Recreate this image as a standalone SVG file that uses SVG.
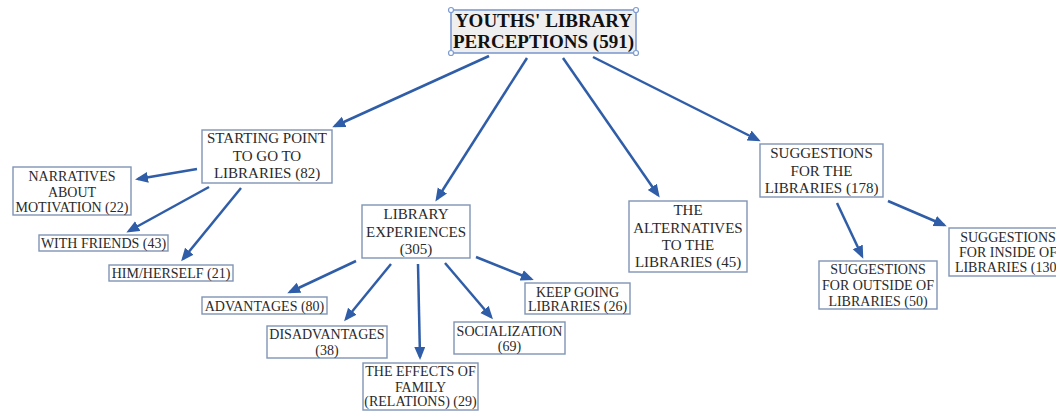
<svg xmlns="http://www.w3.org/2000/svg" width="1056" height="412" viewBox="0 0 1056 412">
<style>
.box{fill:#ffffff;stroke:#8094b6;stroke-width:1.4}
.root{fill:#efefef;stroke:#7d9bd0;stroke-width:1.6}
.h{fill:#ffffff;stroke:#7d9bd0;stroke-width:1.2}
text{font-family:"Liberation Serif","Times New Roman",serif;fill:#2a2a2a;text-anchor:middle}
.t1{font-size:15px}
.t2{font-size:14px}
.tr{font-size:19px;font-weight:bold;fill:#111}
.c{stroke:#2f5da8;stroke-width:2.5;fill:none;marker-end:url(#ah)}
</style>
<defs>
<marker id="ah" markerUnits="userSpaceOnUse" markerWidth="14" markerHeight="12" refX="10" refY="5.5" orient="auto">
<path d="M0,0 L13,5.5 L0,11 z" fill="#2f5da8"/>
</marker>
</defs>
<rect width="1056" height="412" fill="#ffffff"/>
<g id="connectors">
<line class="c" x1="489" y1="56" x2="335" y2="126"/>
<line class="c" x1="527" y1="58" x2="437" y2="199"/>
<line class="c" x1="563" y1="58" x2="658" y2="195"/>
<line class="c" x1="593" y1="57" x2="758" y2="140"/>
<line class="c" x1="197" y1="169" x2="138" y2="179"/>
<line class="c" x1="209" y1="187" x2="129" y2="231"/>
<line class="c" x1="241" y1="188" x2="183" y2="259"/>
<line class="c" x1="356" y1="261" x2="290" y2="292"/>
<line class="c" x1="391" y1="264" x2="346" y2="319"/>
<line class="c" x1="418" y1="264" x2="420" y2="357"/>
<line class="c" x1="445" y1="263" x2="491" y2="317"/>
<line class="c" x1="476" y1="257" x2="531" y2="279"/>
<line class="c" x1="837" y1="203" x2="862" y2="256"/>
<line class="c" x1="888" y1="201" x2="944" y2="225"/>
</g>
<g id="root">
<rect class="root" x="451" y="10" width="185" height="43"/>
<circle class="h" cx="451" cy="10" r="2.5"/>
<circle class="h" cx="636" cy="10" r="2.5"/>
<circle class="h" cx="451" cy="53" r="2.5"/>
<circle class="h" cx="636" cy="53" r="2.5"/>
<text class="tr" x="543.5" y="27">YOUTHS' LIBRARY</text>
<text class="tr" x="543.5" y="48">PERCEPTIONS (591)</text>
</g>
<g id="starting">
<rect class="box" x="202" y="130" width="130" height="53"/>
<text class="t1" x="267" y="143">STARTING POINT</text>
<text class="t1" x="267" y="160.5">TO GO TO</text>
<text class="t1" x="267" y="178">LIBRARIES (82)</text>
</g>
<g id="narratives">
<rect class="box" x="13" y="167" width="118" height="48"/>
<text class="t2" x="72" y="181">NARRATIVES</text>
<text class="t2" x="72" y="196.5">ABOUT</text>
<text class="t2" x="72" y="212">MOTIVATION (22)</text>
</g>
<g id="friends">
<rect class="box" x="39" y="235" width="129" height="16"/>
<text class="t2" x="103.5" y="248">WITH FRIENDS (43)</text>
</g>
<g id="himherself">
<rect class="box" x="109" y="265" width="124" height="16"/>
<text class="t2" x="171" y="278">HIM/HERSELF (21)</text>
</g>
<g id="libexp">
<rect class="box" x="362" y="205" width="108" height="53"/>
<text class="t1" x="416" y="219">LIBRARY</text>
<text class="t1" x="416" y="236.5">EXPERIENCES</text>
<text class="t1" x="416" y="254">(305)</text>
</g>
<g id="advantages">
<rect class="box" x="202" y="297" width="125" height="17"/>
<text class="t2" x="264.5" y="311">ADVANTAGES (80)</text>
</g>
<g id="disadvantages">
<rect class="box" x="267" y="326" width="120" height="32"/>
<text class="t2" x="327" y="339">DISADVANTAGES</text>
<text class="t2" x="327" y="355">(38)</text>
</g>
<g id="effects">
<rect class="box" x="363" y="363" width="115" height="47"/>
<text class="t2" x="420.5" y="376">THE EFFECTS OF</text>
<text class="t2" x="420.5" y="391.5">FAMILY</text>
<text class="t2" x="420.5" y="406">(RELATIONS) (29)</text>
</g>
<g id="socialization">
<rect class="box" x="454" y="322" width="111" height="32"/>
<text class="t2" x="509.5" y="336">SOCIALIZATION</text>
<text class="t2" x="509.5" y="351">(69)</text>
</g>
<g id="keepgoing">
<rect class="box" x="525" y="283" width="105" height="31"/>
<text class="t2" x="577.5" y="297">KEEP GOING</text>
<text class="t2" x="577.5" y="311">LIBRARIES (26)</text>
</g>
<g id="alternatives">
<rect class="box" x="629" y="201" width="118" height="71"/>
<text class="t1" x="688" y="215">THE</text>
<text class="t1" x="688" y="232.5">ALTERNATIVES</text>
<text class="t1" x="688" y="250">TO THE</text>
<text class="t1" x="688" y="267">LIBRARIES (45)</text>
</g>
<g id="suggestions">
<rect class="box" x="760" y="144" width="123" height="53"/>
<text class="t1" x="821.5" y="158">SUGGESTIONS</text>
<text class="t1" x="821.5" y="175.5">FOR THE</text>
<text class="t1" x="821.5" y="193">LIBRARIES (178)</text>
</g>
<g id="outside">
<rect class="box" x="819" y="261" width="118" height="48"/>
<text class="t2" x="878" y="274">SUGGESTIONS</text>
<text class="t2" x="878" y="290">FOR OUTSIDE OF</text>
<text class="t2" x="878" y="306">LIBRARIES (50)</text>
</g>
<g id="inside">
<rect class="box" x="949" y="228" width="120" height="48"/>
<text class="t2" x="1008" y="242">SUGGESTIONS</text>
<text class="t2" x="1008" y="257">FOR INSIDE OF</text>
<text class="t2" x="1008" y="272">LIBRARIES (130)</text>
</g>
</svg>
